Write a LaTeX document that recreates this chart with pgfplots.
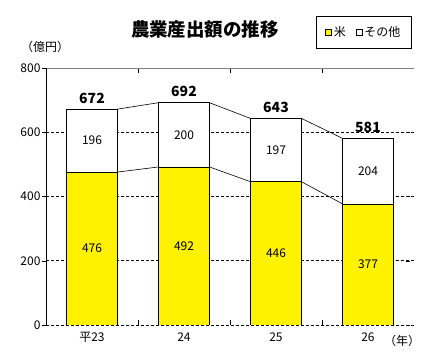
\documentclass[border=0pt]{standalone}
\usepackage{pgfplots}
\pgfplotsset{compat=1.18}
\usepackage{fontspec}
\setmainfont{Noto Sans CJK JP}
\begin{document}
\begin{tikzpicture}[x=1pt,y=1pt]
\path (0,0) rectangle (424,362);
\begin{axis}[
  at={(46pt,37pt)}, anchor=south west,
  scale only axis, width=368pt, height=257pt,
  ybar stacked, bar width=51pt,
  xmin=-0.5, xmax=3.5, ymin=0, ymax=800,
  ytick={0,200,400,600,800},
  xtick={0,1,2,3},
  xticklabels={平23,24,25,26},
  major x tick style={draw=none},
  minor xtick={0.5,1.5,2.5},
  minor tick length=5pt,
  minor x tick style={black},
  y tick style={black, xshift=-4pt},
  major tick length=4pt,
  ymajorgrids,
  grid style={black, dash pattern=on 3pt off 2pt, line width=0.5pt},
  axis line style={draw=none},
  /pgf/number format/assume math mode=true,
  tick label style={font=\fontsize{12}{12}\selectfont},
  yticklabel style={xshift=-2pt},
  xticklabel style={yshift=-4pt},
  legend style={at={(0.864,1.138)}, anchor=center, draw=black, line width=0.8pt,
    inner xsep=9pt, inner ysep=8pt, font=\fontsize{12}{12}\selectfont,
    /tikz/every even column/.append style={column sep=8pt}},
  legend columns=2,
  legend cell align=left,
  legend image code/.code={\draw[#1, draw=black, line width=0.5pt] (0pt,-3pt) rectangle (6pt,3pt);},
]
\addplot[fill=yellow, draw=black, line width=0.6pt] coordinates {(0,476) (1,492) (2,446) (3,377)};
\addplot[fill=white, draw=black, line width=0.6pt] coordinates {(0,196) (1,200) (2,197) (3,204)};
\legend{米,その他}
\draw[black, line width=0.8pt] (rel axis cs:0,1) -- (rel axis cs:0,0) -- (rel axis cs:1,0);
\draw[gray, line width=0.8pt] (rel axis cs:0,1) -- (rel axis cs:1,1) -- (rel axis cs:1,0);
\end{axis}
\begin{axis}[
  at={(46pt,37pt)}, anchor=south west,
  scale only axis, width=368pt, height=257pt,
  xmin=-0.5, xmax=3.5, ymin=0, ymax=800,
  hide axis, clip=false,
]
\addplot[black, line width=0.6pt, no marks] coordinates {(0.277,476) (0.723,492)};
\addplot[black, line width=0.6pt, no marks] coordinates {(1.277,492) (1.723,446)};
\addplot[black, line width=0.6pt, no marks] coordinates {(2.277,446) (2.723,377)};
\addplot[black, line width=0.6pt, no marks] coordinates {(0.277,672) (0.723,692)};
\addplot[black, line width=0.6pt, no marks] coordinates {(1.277,692) (1.723,643)};
\addplot[black, line width=0.6pt, no marks] coordinates {(2.277,643) (2.723,581)};
\node[font=\fontsize{12}{12}\selectfont] at (axis cs:0,238) {476};
\node[font=\fontsize{12}{12}\selectfont] at (axis cs:1,246) {492};
\node[font=\fontsize{12}{12}\selectfont] at (axis cs:2,223) {446};
\node[font=\fontsize{12}{12}\selectfont] at (axis cs:3,188.5) {377};
\node[font=\fontsize{12}{12}\selectfont] at (axis cs:0,574) {196};
\node[font=\fontsize{12}{12}\selectfont] at (axis cs:1,592) {200};
\node[font=\fontsize{12}{12}\selectfont] at (axis cs:2,544.5) {197};
\node[font=\fontsize{12}{12}\selectfont] at (axis cs:3,479) {204};
\node[font=\bfseries\fontsize{14}{14}\selectfont, anchor=south, yshift=2pt] at (axis cs:0,672) {672};
\node[font=\bfseries\fontsize{14}{14}\selectfont, anchor=south, yshift=2pt] at (axis cs:1,692) {692};
\node[font=\bfseries\fontsize{14}{14}\selectfont, anchor=south, yshift=2pt] at (axis cs:2,643) {643};
\node[font=\bfseries\fontsize{14}{14}\selectfont, anchor=south, yshift=2pt] at (axis cs:3,581) {581};
\end{axis}
\node[font=\bfseries\fontsize{18.5}{18.5}\selectfont] at (205,332) {農業産出額の推移};
\node[font=\fontsize{12}{12}\selectfont] at (45,315) {（億円）};
\node[font=\fontsize{12}{12}\selectfont] at (402,21) {（年）};
\end{tikzpicture}
\end{document}
